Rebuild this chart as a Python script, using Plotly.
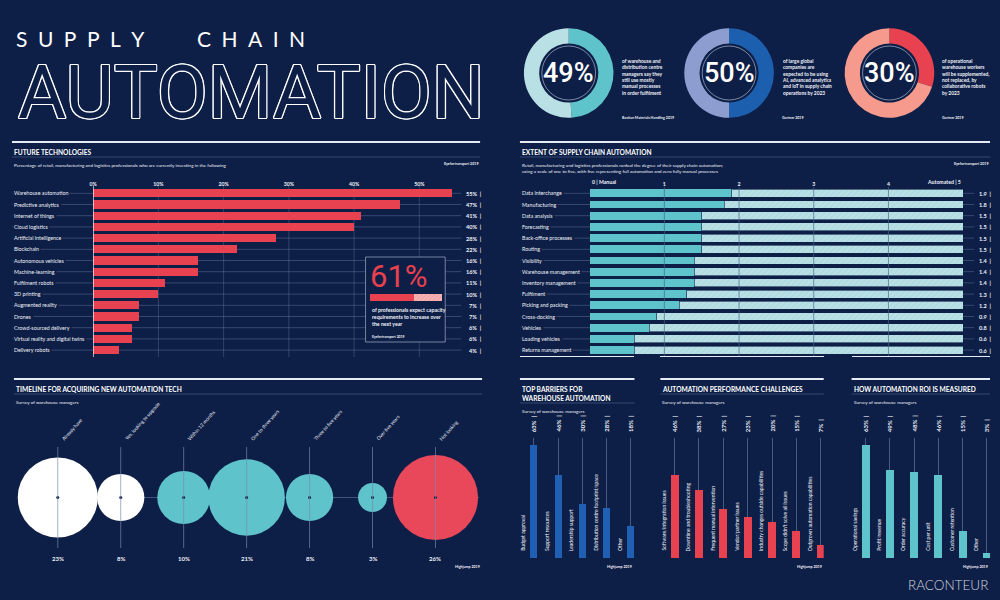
import math
import plotly.graph_objects as go

# ---------------- data ----------------
tech_labels = ["Warehouse automation", "Predictive analytics", "Internet of things", "Cloud logistics",
               "Artificial intelligence", "Blockchain", "Autonomous vehicles", "Machine-learning",
               "Fulfilment robots", "3D printing", "Augmented reality", "Drones",
               "Crowd-sourced delivery", "Virtual reality and digital twins", "Delivery robots"]
tech_values = [55, 47, 41, 40, 28, 22, 16, 16, 11, 10, 7, 7, 6, 6, 4]
tech_ticks = [0, 10, 20, 30, 40, 50]

extent_labels = ["Data interchange", "Manufacturing", "Data analysis", "Forecasting",
                 "Back-office processes", "Routing", "Visibility", "Warehouse management",
                 "Inventory management", "Fulfilment", "Picking and packing", "Cross-docking",
                 "Vehicles", "Loading vehicles", "Returns management"]
extent_values = [1.9, 1.8, 1.5, 1.5, 1.5, 1.5, 1.4, 1.4, 1.4, 1.3, 1.2, 0.9, 0.8, 0.6, 0.6]
extent_max = 5
extent_ticks = [1, 2, 3, 4]

timeline_labels = ["Already have", "Yes, looking to upgrade", "Within 12 months", "One to three years",
                   "Three to five years", "Over five years", "Not looking"]
timeline_values = [23, 8, 10, 21, 8, 3, 26]

barrier_labels = ["Budget approval", "Support resources", "Leadership support",
                  "Distribution centre footprint/space", "Other"]
barrier_values = [63, 46, 30, 28, 18]

perf_labels = ["Software/integration issues", "Downtime and troubleshooting", "Frequent manual intervention",
               "Vendor/partner issues", "Industry changes outside capabilities", "Scope didn't solve all issues",
               "Outgrown automation capabilities"]
perf_values = [46, 38, 27, 23, 20, 15, 7]

roi_labels = ["Operational savings", "Profit/revenue", "Order accuracy", "Cost per unit",
              "Customer retention", "Other"]
roi_values = [63, 49, 48, 46, 15, 3]

donut_values = [49, 50, 30]
donut_texts = [
    "of warehouse and<br>distribution centre<br>managers say they<br>still use mostly<br>manual processes<br>in order fulfilment",
    "of large global<br>companies are<br>expected to be using<br>AI, advanced analytics<br>and IoT in supply chain<br>operations by 2023",
    "of operational<br>warehouse workers<br>will be supplemented,<br>not replaced, by<br>collaborative robots<br>by 2023",
]
donut_sources = ["Bastian Materials Handling 2019", "Gartner 2019", "Gartner 2019"]

capacity_value = 61

# ---------------- style ----------------
BG = "#0e1f47"
WHITE = "#ffffff"
TXT = "#eef1f7"
RED = "#e8414f"
TEAL = "#5ec3cb"
LTEAL = "#b9e0e5"
BLUE = "#1f5fb4"
GRID = "rgba(120,138,178,0.55)"
RULE = "#e6eaf2"
FONT = "Lato"

W, H = 1000, 600


def px(x):
    return x / W


def py(y):
    return 1 - y / H


shapes = []
annotations = []


def ann(x, y, text, size=5.3, color=TXT, xanchor="left", yanchor="middle",
        xref="paper", yref="paper", weight="normal", family=FONT, **kw):
    d = dict(x=x, y=y, text=text, xref=xref, yref=yref, xanchor=xanchor, yanchor=yanchor,
             showarrow=False, font=dict(size=size, color=color, family=family, weight=weight))
    d.update(kw)
    annotations.append(d)


def hline(x0, x1, y, color=GRID, width=0.7, yref="paper", layer="below"):
    shapes.append(dict(type="line", xref="paper", yref=yref, x0=px(x0), x1=px(x1),
                       y0=(py(y) if yref == "paper" else y), y1=(py(y) if yref == "paper" else y),
                       line=dict(color=color, width=width), layer=layer))


def panel(x0, x1, title_lines, subtitle_lines, source, top, source_y):
    hline(x0, x1, top, color=RULE, width=2.2)
    ann(px(x0), py(top + 4), "<br>".join(title_lines), size=6.6, color=WHITE, weight="bold",
        yanchor="top", align="left")
    t_h = 9 * len(title_lines)
    hline(x0, x1, top + 6 + t_h, width=0.7)
    ann(px(x0), py(top + 8.5 + t_h), "<br>".join(subtitle_lines), size=4.6, yanchor="top", align="left")
    ann(px(x1), py(source_y), source, size=3.6, xanchor="right", weight="bold")


fig = go.Figure()

# ---------------- title ----------------
ann(px(10), py(38),
    "S\u2002U\u2002P\u2002P\u2002L\u2002Y\u2002\u2002\u2002\u2002\u2002C\u2002H\u2002A\u2002I\u2002N",
    size=21, color=WHITE, family="Lato", weight=400)
outline = ", ".join(f"{a}px {b}px 0 #ffffff" for a, b in
                    [(1.2, 0), (-1.2, 0), (0, 1.2), (0, -1.2), (0.9, 0.9), (-0.9, -0.9), (0.9, -0.9), (-0.9, 0.9)])
annotations.append(dict(x=px(248), y=py(92), text="AUTOMATION", xref="paper", yref="paper",
                        xanchor="center", yanchor="middle", showarrow=False,
                        font=dict(size=74, color=BG, family="Roboto", weight=400, shadow=outline)))

# ---------------- donuts ----------------
DCX = [567, 728, 889]
DCY, DR = 73, 45
donut_colors = [(TEAL, LTEAL), ("#1b5fae", "#8e9dcf"), (RED, "#f59a8c")]
for v, cx, cols, txt, src in zip(donut_values, DCX, donut_colors, donut_texts, donut_sources):
    fig.add_trace(go.Pie(values=[v, 100 - v], marker=dict(colors=list(cols), line=dict(width=0)),
                         hole=0.66, sort=False, direction="clockwise", rotation=0,
                         textinfo="none", hoverinfo="skip", showlegend=False,
                         domain=dict(x=[px(cx - DR), px(cx + DR)], y=[py(DCY + DR), py(DCY - DR)])))
    shapes.append(dict(type="circle", xref="paper", yref="paper", x0=px(cx - 27), x1=px(cx + 27),
                       y0=py(DCY + 27), y1=py(DCY - 27), line=dict(color="rgba(205,218,238,0.7)", width=0.8),
                       layer="above"))
    ann(px(cx), py(DCY), f"{v}%", size=27, color=WHITE, xanchor="center", family="Roboto", weight=500)
    ann(px(cx + 51), py(56), txt, size=4.9, yanchor="top", align="left", weight="bold")
    ann(px(cx + 51), py(117), src, size=3.6, weight="bold")

# ---------------- future technologies ----------------
panel(8, 478, ["FUTURE TECHNOLOGIES"],
      ["Percentage of retail, manufacturing and logistics professionals who are currently investing in the following"],
      "Eyefortransport 2019", 142, 163)

T0, TPX = 89.5, 6.55          # x of 0% and pixels per percent
ROW0, ROWH, NROW = 193.3, 11.2, len(tech_labels)
ydom = [py(ROW0 + (NROW - 0.5) * ROWH), py(ROW0 - 0.5 * ROWH)]
tx_end = 455
fig.add_trace(go.Bar(y=list(range(NROW)), x=tech_values, orientation="h", width=0.72,
                     marker=dict(color=RED, line=dict(width=0)), xaxis="x", yaxis="y", hoverinfo="skip"))

for i, (lab, v) in enumerate(zip(tech_labels, tech_values)):
    hline(8, 459, i, yref="y")
for t in tech_ticks[1:]:
    shapes.append(dict(type="line", xref="x", yref="paper", x0=t, x1=t, y0=py(357), y1=py(186),
                       line=dict(color=GRID, width=0.6), layer="below"))
# inset box (drawn after grid lines so it masks them)
shapes.append(dict(type="rect", xref="paper", yref="paper", x0=px(363), x1=px(443), y0=py(342), y1=py(257),
                   fillcolor=BG, line=dict(color="rgba(150,162,192,0.85)", width=0.9), layer="below"))
shapes.append(dict(type="line", xref="x", yref="paper", x0=0, x1=0, y0=py(357), y1=py(186),
                   line=dict(color=WHITE, width=1.2), layer="above"))
for i, (lab, v) in enumerate(zip(tech_labels, tech_values)):
    ann(px(8), i, lab, yref="y", bgcolor=BG, borderpad=1)
    ann(px(481), i, f"{v}%\u2002|", yref="y", xanchor="right", bgcolor=BG, borderpad=1, size=5.6, weight="bold")

# 61% inset
ann(px(365), py(276), f"{capacity_value}%", size=31, color=RED, family="Roboto", weight=400)
fig.add_trace(go.Bar(y=[0], x=[capacity_value], orientation="h", width=1, marker=dict(color=RED, line=dict(width=0)),
                     xaxis="x7", yaxis="y7", hoverinfo="skip"))
fig.add_trace(go.Bar(y=[0], x=[100 - capacity_value], orientation="h", width=1,
                     marker=dict(color="#f3a3a6", line=dict(width=0),
                                 pattern=dict(shape="/", fgcolor="#fbd6d6", size=3, solidity=0.35, fillmode="overlay")),
                     xaxis="x7", yaxis="y7", hoverinfo="skip"))
ann(px(367), py(305), "of professionals expect capacity<br>requirements to increase over<br>the next year",
    size=5.2, yanchor="top", align="left", weight="bold")
ann(px(367), py(337), "Eyefortransport 2019", size=3.4, weight="bold")

# ---------------- extent of supply chain automation ----------------
panel(518, 990, ["EXTENT OF SUPPLY CHAIN AUTOMATION"],
      ["Retail, manufacturing and logistics professionals ranked the degree of their supply chain automation;",
       "using a scale of one to five, with five representing full automation and zero fully manual processes"],
      "Eyefortransport 2019", 142, 163)
for i in range(len(extent_labels)):
    hline(518, 974, i, yref="y2")
fig.add_trace(go.Bar(y=list(range(len(extent_values))), x=extent_values, orientation="h", width=0.7,
                     marker=dict(color=TEAL, line=dict(width=0)), xaxis="x2", yaxis="y2", hoverinfo="skip"))
fig.add_trace(go.Bar(y=list(range(len(extent_values))), x=[extent_max - v for v in extent_values],
                     orientation="h", width=0.7,
                     marker=dict(color=LTEAL, line=dict(width=0.6, color=BG),
                                 pattern=dict(shape="/", fgcolor="#96cdd5", size=4, solidity=0.25, fillmode="overlay")),
                     xaxis="x2", yaxis="y2", hoverinfo="skip"))
for t in extent_ticks:
    shapes.append(dict(type="line", xref="x2", yref="paper", x0=t, x1=t, y0=py(356), y1=py(187),
                       line=dict(color="rgba(70,100,135,0.75)", width=0.9), layer="above"))
for i, (lab, v) in enumerate(zip(extent_labels, extent_values)):
    ann(px(518), i, lab, yref="y2", bgcolor=BG, borderpad=1)
    ann(px(993), i, f"{v}\u2002|", yref="y2", xanchor="right", bgcolor=BG, borderpad=1, size=5.6, weight="bold")
ann(0, py(182), "0 | Manual", xref="x2", size=5.2, weight="bold")
ann(extent_max, py(182), "Automated | 5", xref="x2", xanchor="right", size=5.2, weight="bold")

# ---------------- timeline ----------------
panel(10, 480, ["TIMELINE FOR ACQUIRING NEW AUTOMATION TECH"], ["Survey of warehouse managers"],
      "Highjump 2019", 379, 566)
hline(14, 477, 0, yref="y3", width=0.9)
BUBBLE_K = 16.7   # diameter in px per sqrt(percent)
tl_colors = [WHITE, WHITE, TEAL, TEAL, TEAL, TEAL, "#e9485a"]
n_tl = len(timeline_values)
fig.add_trace(go.Scatter(x=list(range(n_tl)), y=[0] * n_tl, mode="markers", xaxis="x3", yaxis="y3",
                         cliponaxis=False,
                         marker=dict(size=[BUBBLE_K * math.sqrt(v) for v in timeline_values], opacity=1,
                                     sizemode="diameter", color=tl_colors, line=dict(width=0)),
                         hoverinfo="skip"))
fig.add_trace(go.Scatter(x=list(range(n_tl)), y=[0] * n_tl, mode="markers", xaxis="x3", yaxis="y3",
                         cliponaxis=False, marker=dict(size=3, color=BG, opacity=1), hoverinfo="skip"))
for i, (lab, v) in enumerate(zip(timeline_labels, timeline_values)):
    shapes.append(dict(type="line", xref="x3", yref="paper", x0=i, x1=i, y0=py(548), y1=py(447),
                       line=dict(color="rgba(120,138,178,0.75)", width=0.9), layer="above"))
    ann(i, py(444), lab, xref="x3", xanchor="left", yanchor="bottom", textangle=-48, size=4.8)
    ann(i, py(558), f"{v}%", xref="x3", xanchor="center", size=6, weight="bold")

# ---------------- vertical bar panels ----------------
panel(518, 633, ["TOP BARRIERS FOR", "WAREHOUSE AUTOMATION"], ["Survey of warehouse managers"],
      "Highjump 2019", 379, 566)
panel(659, 823, ["AUTOMATION PERFORMANCE CHALLENGES"], ["Survey of warehouse managers"],
      "Highjump 2019", 379, 566)
panel(851, 990, ["HOW AUTOMATION ROI IS MEASURED"], ["Survey of warehouse managers"],
      "Highjump 2019", 379, 566)

vpanels = [
    ("x4", "y4", barrier_labels, barrier_values, BLUE, 0.29),
    ("x5", "y5", perf_labels, perf_values, RED, 0.33),
    ("x6", "y6", roi_labels, roi_values, TEAL, 0.33),
]
for xa, ya, labs, vals, col, bw in vpanels:
    fig.add_trace(go.Bar(x=list(range(len(vals))), y=vals, width=bw, marker=dict(color=col, line=dict(width=0)),
                         xaxis=xa, yaxis=ya, hoverinfo="skip"))
    for i, (lab, v) in enumerate(zip(labs, vals)):
        ann(i, py(434), f"{v}%\u2002|", xref=xa, xanchor="center", yanchor="bottom", textangle=-90,
            size=6, weight="bold")
        ann(i, py(553), lab, xref=xa, xanchor="center", yanchor="bottom", textangle=-90, xshift=-11, size=5)

# ---------------- logo ----------------
ann(px(990), py(585), "RACONTEUR", size=13.5, color="#cfd4df", xanchor="right", family="Lato", weight=300)

# ---------------- layout ----------------
VB_Y = dict(domain=[py(558), py(438)], range=[0, 120 / 1.8], visible=False)


def vbx(x0, x1, first, last, n):
    step = (last - first) / (n - 1)
    return dict(domain=[px(x0), px(x1)], range=[-(first - x0) / step, (n - 1) + (x1 - last) / step],
                showgrid=True, gridcolor=GRID, gridwidth=0.7, tickvals=list(range(n)), showticklabels=False,
                ticks="", zeroline=False, showline=True, linecolor=RULE, linewidth=1.3)


fig.update_layout(
    width=W, height=H, margin=dict(l=0, r=0, t=0, b=0),
    paper_bgcolor=BG, plot_bgcolor="rgba(0,0,0,0)", showlegend=False, barmode="stack",
    font=dict(family=FONT, color=TXT),
    xaxis=dict(domain=[px(T0), px(tx_end)], range=[0, (tx_end - T0) / TPX], side="top",
               tickvals=tech_ticks, ticktext=[f"{t}%" for t in tech_ticks],
               tickfont=dict(size=5.2, color=TXT, weight="bold"), showgrid=False, zeroline=False,
               showline=False, ticks=""),
    yaxis=dict(domain=ydom, range=[NROW - 0.5, -0.5], visible=False),
    xaxis2=dict(domain=[px(588), px(963)], range=[0, extent_max], side="top", tickvals=extent_ticks,
                tickfont=dict(size=5.2, color=TXT, weight="bold"), showgrid=False, zeroline=False,
                showline=False, ticks=""),
    yaxis2=dict(domain=ydom, range=[NROW - 0.5, -0.5], visible=False),
    xaxis3=dict(domain=[px(54 - 31.6), px(54 + 6.5 * 63.2)], range=[-0.5, n_tl - 0.5], visible=False),
    yaxis3=dict(domain=[py(548), py(447)], range=[-1, 1], visible=False),
    xaxis4=vbx(518, 633, 532, 629, len(barrier_values)),
    yaxis4=VB_Y,
    xaxis5=vbx(659, 823, 673.3, 820, len(perf_values)),
    yaxis5=dict(VB_Y),
    xaxis6=vbx(851, 990, 865, 986.7, len(roi_values)),
    yaxis6=dict(VB_Y),
    xaxis7=dict(domain=[px(367), px(440)], range=[0, 100], visible=False),
    yaxis7=dict(domain=[py(301), py(294)], range=[-0.5, 0.5], visible=False),
    shapes=shapes, annotations=annotations,
)

fig.write_html("out.html", config={"displayModeBar": False},
               post_script="document.body.style.margin='0';document.body.style.overflow='hidden';")
